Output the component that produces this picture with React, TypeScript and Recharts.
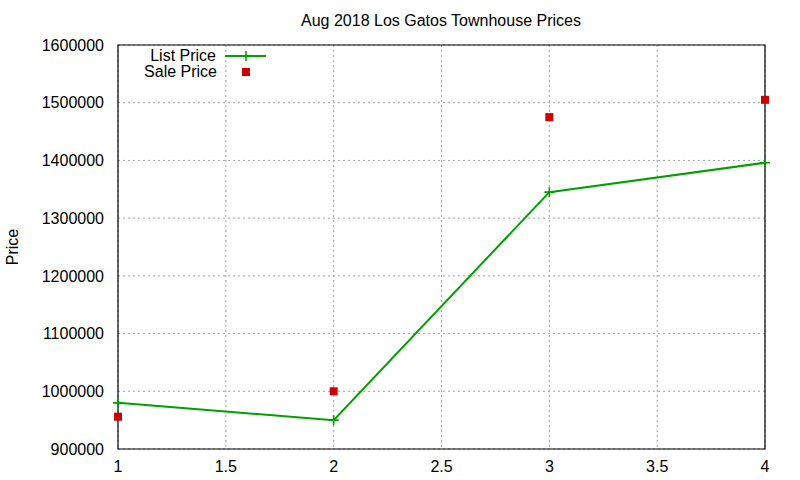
import {
  CartesianGrid,
  Line,
  LineChart,
  ReferenceArea,
  XAxis,
  YAxis,
} from "recharts";

const positions = [1, 2, 3, 4];
const listPrice = [980000, 950000, 1345000, 1396000];
const salePrice = [956000, 1000000, 1475000, 1505000];
const xTicks = [1, 1.5, 2, 2.5, 3, 3.5, 4];
const yTicks = [900000, 1000000, 1100000, 1200000, 1300000, 1400000, 1500000, 1600000];

const GREEN = "#00a000";
const RED = "#cc0000";
const FONT = "'Liberation Sans', Arial, sans-serif";

const data = positions.map((x, i) => ({ x, list: listPrice[i], sale: salePrice[i] }));

function PlusDot(props: any) {
  const { cx, cy } = props;
  if (cx == null || cy == null) return null;
  return (
    <path
      d={`M${cx - 5},${cy}H${cx + 5}M${cx},${cy - 5}V${cy + 5}`}
      stroke={GREEN}
      strokeWidth={1.6}
      fill="none"
    />
  );
}

function SquareDot(props: any) {
  const { cx, cy } = props;
  if (cx == null || cy == null) return null;
  return <rect x={cx - 4} y={cy - 4} width={8} height={8} fill={RED} />;
}

const text = { fontFamily: FONT, fontSize: 16, fill: "#000" };

export default function App() {
  return (
    <div style={{ position: "absolute", left: 0, top: 0, width: 800, height: 480, background: "#fff" }}>
      <LineChart
        width={800}
        height={480}
        data={data}
        margin={{ top: 45, right: 35, bottom: 0, left: 0 }}
      >
        <CartesianGrid stroke="#a0a0a0" strokeDasharray="2 3" />
        <XAxis
          dataKey="x"
          type="number"
          domain={[1, 4]}
          ticks={xTicks}
          tickLine={false}
          axisLine={false}
          tickMargin={6}
          height={31}
          tick={text}
        />
        <YAxis
          type="number"
          domain={[900000, 1600000]}
          ticks={yTicks}
          tickLine={false}
          axisLine={false}
          tickMargin={8}
          width={118}
          tick={text}
        />
        <ReferenceArea
          x1={1}
          x2={4}
          y1={900000}
          y2={1600000}
          fill="none"
          stroke="#000"
          strokeWidth={1.2}
          fillOpacity={0}
        />
        <Line
          dataKey="list"
          stroke={GREEN}
          strokeWidth={2}
          dot={<PlusDot />}
          activeDot={false}
          isAnimationActive={false}
        />
        <Line
          dataKey="sale"
          stroke="none"
          dot={<SquareDot />}
          activeDot={false}
          isAnimationActive={false}
        />
      </LineChart>
      <svg
        width={800}
        height={480}
        style={{ position: "absolute", left: 0, top: 0, pointerEvents: "none" }}
      >
        <text x={441} y={26} textAnchor="middle" {...text}>
          Aug 2018 Los Gatos Townhouse Prices
        </text>
        <text
          x={0}
          y={0}
          textAnchor="middle"
          transform="translate(18,247) rotate(-90)"
          {...text}
        >
          Price
        </text>
        <text x={216} y={61} textAnchor="end" {...text}>
          List Price
        </text>
        <path d="M225,56H266" stroke={GREEN} strokeWidth={2} />
        <path d="M246,51V61" stroke={GREEN} strokeWidth={1.6} />
        <text x={217} y={77} textAnchor="end" {...text}>
          Sale Price
        </text>
        <rect x={242} y={68} width={8} height={8} fill={RED} />
      </svg>
    </div>
  );
}
